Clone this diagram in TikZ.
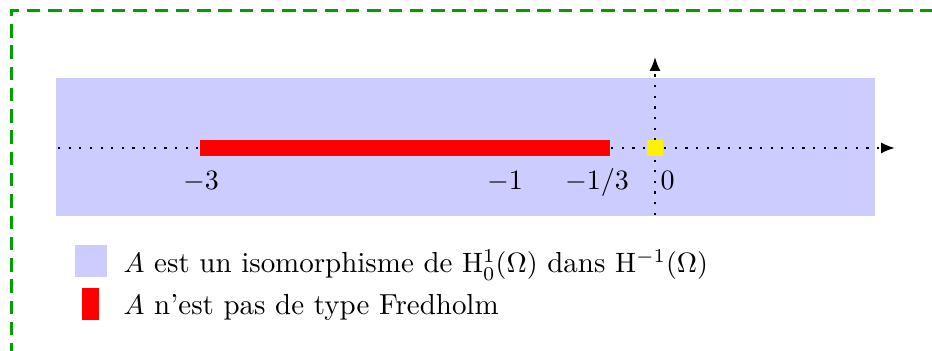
\documentclass[tikz,border=0pt]{standalone}
\usepackage{amsmath,amssymb}
\usetikzlibrary{arrows.meta,positioning}
\definecolor{framegreen}{RGB}{0,160,0}

\begin{document}
\begin{tikzpicture}[
  every node/.style={font=\fontsize{10.35pt}{12.4pt}\selectfont},
  axis/.style={line width=0.8pt, dash pattern=on 0.8pt off 3pt, -{Latex[length=5pt,width=4pt]}},
  zone/.style={fill=blue!20, draw=none},
  bad/.style={red, line width=6pt},
  lab/.style={inner sep=0pt, anchor=base},
  key/.style={inner sep=0pt, draw=none},
  legtext/.style={anchor=base west, inner sep=0pt},
]
\useasboundingbox (-8.225,-2.549) rectangle (3.478,1.858);

% frame, cut by the page
\draw[framegreen, line width=1.1pt, dash pattern=on 4.8pt off 2.8pt, dash phase=4.4pt]
  (-8.08,-3) -- (-8.08,1.727) -- (4.5,1.727);

% region where A is an isomorphism
\fill[zone] (-7.522,-0.854) rectangle (2.763,0.879);

% axes
\coordinate (xl) at (-7.497,0);
\coordinate (xr) at (3.014,0);
\coordinate (yb) at (0,-0.841);
\coordinate (yt) at (0,1.143);
\draw[axis] (xl) -- (xr);
\draw[axis] (yb) -- (yt);

% non Fredholm segment
\coordinate (m3) at (-5.713,0);
\coordinate (m13) at (-0.565,0);
\draw[bad] (m3) -- (m13);
\node[fill=yellow, minimum size=6pt, inner sep=0pt] (origin) at (0,0) {};

% ticks labels
\node[lab] (l3) at (-5.701,-0.527) {$-3$};
\node[lab] (l1) at (-1.884,-0.527) {$-1$};
\node[lab] (l13) at (-0.728,-0.527) {$-1/3$};
\node[lab, anchor=base west] (l0) at (0.063,-0.527) {$0$};

% legend
\node[key, fill=blue!20, minimum size=0.402cm] (keyA) at (-7.082,-1.419) {};
\node[key, fill=red, minimum width=0.213cm, minimum height=0.402cm] (keyB) at (-7.089,-1.959) {};
\node[legtext] (txtA) at (-6.680,-1.570) {$A$ est un isomorphisme de $\mathrm{H}^1_0(\Omega)$ dans $\mathrm{H}^{-1}(\Omega)$};
\node[legtext] (txtB) at (-6.680,-2.097) {$A$ n'est pas de type Fredholm};

\end{tikzpicture}
\end{document}
